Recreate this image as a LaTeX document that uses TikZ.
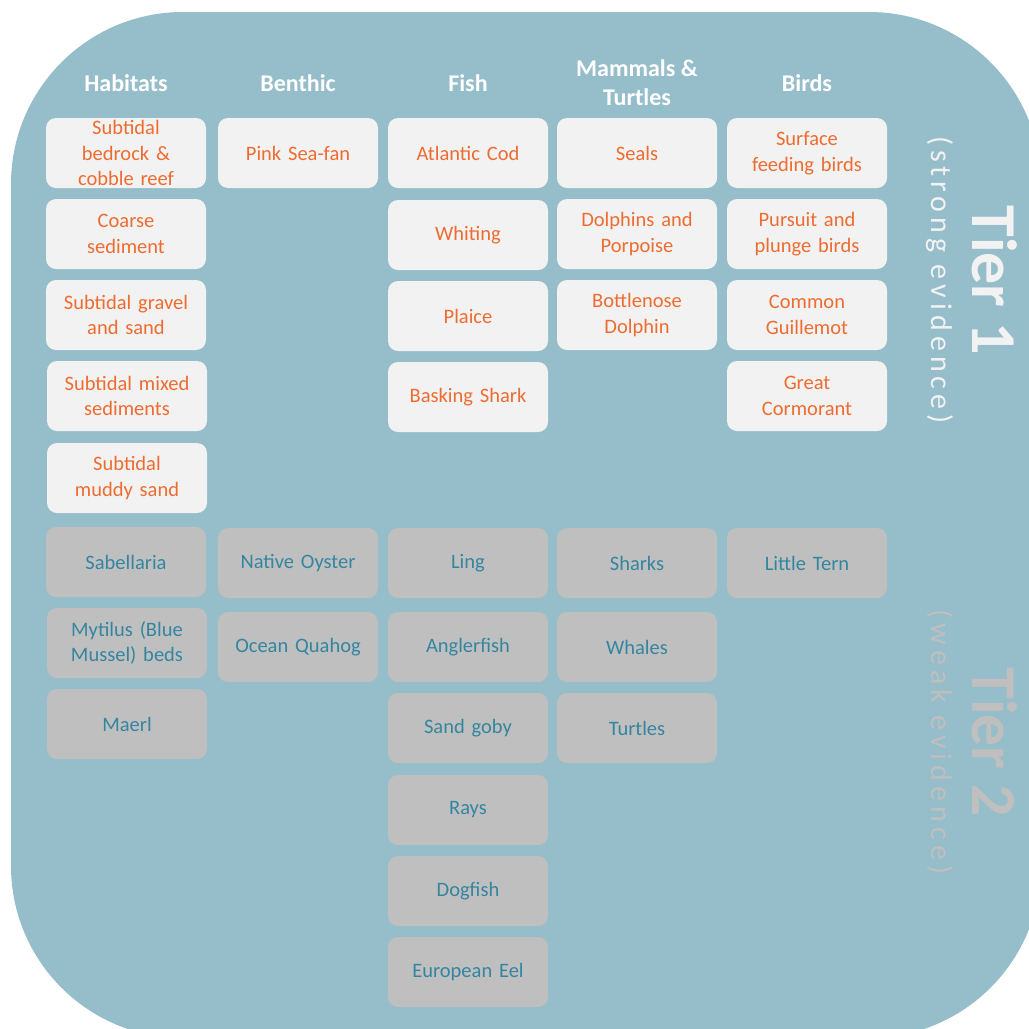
\documentclass[tikz,border=0pt]{standalone}
\usepackage{fontspec}
\setmainfont{Carlito}
\usepackage{tikz}
\usetikzlibrary{positioning}
\definecolor{SeaBlue}{RGB}{150,189,202}
\definecolor{TierOrange}{RGB}{238,108,48}
\definecolor{TierTeal}{RGB}{52,134,160}
\definecolor{BoxLight}{RGB}{242,242,242}
\definecolor{BoxGrey}{RGB}{191,191,191}
\begin{document}
\begin{tikzpicture}[x=1pt,y=-1pt,
  tbox/.style={fill=BoxLight,rounded corners=10pt,text=TierOrange,
               minimum height=70pt,text width=150pt,inner xsep=5pt,inner ysep=0pt,
               align=center,font=\fontsize{20.5}{25.5}\selectfont},
  wbox/.style={tbox,fill=BoxGrey,text=TierTeal},
  head/.style={text=white,align=center,font=\fontsize{24}{29}\selectfont\bfseries},
  tier/.style={rotate=-90,font=\fontsize{64}{70}\selectfont\bfseries},
  evid/.style={rotate=-90,font=\fontsize{30}{34}\selectfont\addfontfeature{LetterSpace=17}},
]
\useasboundingbox (0,0) rectangle (1029,1029);
\clip (0,0) rectangle (1029,1029);
\fill[SeaBlue,rounded corners=172pt] (11,12) rectangle (1041,1038);
\node[head] (habitats) at (126,83) {Habitats};
\node[head] (benthic) at (298,83) {Benthic};
\node[head] (fish) at (468,83) {Fish};
\node[head] (mammals) at (637,83) {Mammals \&\\Turtles};
\node[head] (birds) at (807,83) {Birds};
\node[tbox] (bedrock) at (126,153) {Subtidal\\bedrock \&\\cobble reef};
\node[tbox] (coarse) at (126,234) {Coarse\\sediment};
\node[tbox] (gravel) at (126,315) {Subtidal gravel\\and sand};
\node[tbox] (mixed) at (127,396) {Subtidal mixed\\sediments};
\node[tbox] (muddy) at (127,478) {Subtidal\\muddy sand};
\node[tbox] (seafan) at (298,153) {Pink Sea-fan};
\node[tbox] (cod) at (468,153) {Atlantic Cod};
\node[tbox] (whiting) at (468,235) {Whiting};
\node[tbox] (plaice) at (468,316) {Plaice};
\node[tbox] (basking) at (468,397) {Basking Shark};
\node[tbox] (seals) at (637,153) {Seals};
\node[tbox] (dolphins) at (637,234) {Dolphins and\\Porpoise};
\node[tbox] (bottlenose) at (637,315) {Bottlenose\\Dolphin};
\node[tbox] (surface) at (807,153) {Surface\\feeding birds};
\node[tbox] (pursuit) at (807,234) {Pursuit and\\plunge birds};
\node[tbox] (guillemot) at (807,315) {Common\\Guillemot};
\node[tbox] (cormorant) at (807,396) {Great\\Cormorant};
\node[wbox] (sabellaria) at (126,562) {Sabellaria};
\node[wbox] (mytilus) at (127,643) {Mytilus (Blue\\Mussel) beds};
\node[wbox] (maerl) at (127,724) {Maerl};
\node[wbox] (oyster) at (298,563) {Native Oyster};
\node[wbox] (quahog) at (298,647) {Ocean Quahog};
\node[wbox] (ling) at (468,563) {Ling};
\node[wbox] (angler) at (468,647) {Anglerfish};
\node[wbox] (goby) at (468,728) {Sand goby};
\node[wbox] (rays) at (468,810) {Rays};
\node[wbox] (dogfish) at (468,891) {Dogfish};
\node[wbox] (eel) at (468,972) {European Eel};
\node[wbox] (sharks) at (637,563) {Sharks};
\node[wbox] (whales) at (637,647) {Whales};
\node[wbox] (turtles) at (637,728) {Turtles};
\node[wbox] (tern) at (807,563) {Little Tern};
\node[tier,text=BoxLight] (tierone) at (995,280) {Tier 1};
\node[evid,text=BoxLight] (strong) at (940,280) {(strong evidence)};
\node[tier,text=BoxGrey] (tiertwo) at (995,742) {Tier 2};
\node[evid,text=BoxGrey] (weak) at (940,742) {(weak evidence)};
\end{tikzpicture}
\end{document}
